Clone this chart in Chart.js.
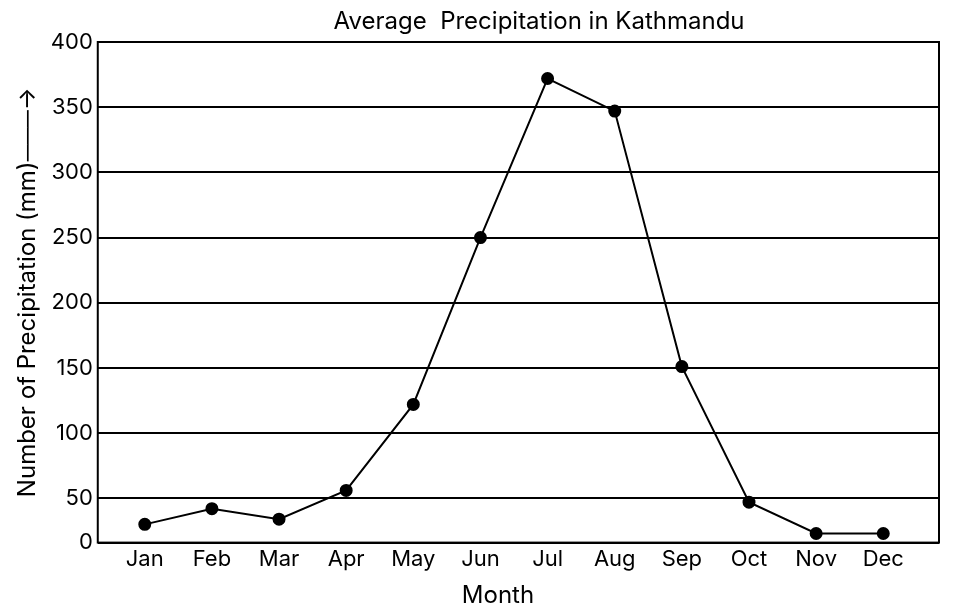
<!DOCTYPE html>
<html>
<head>
<meta charset="utf-8">
<script src="https://cdn.jsdelivr.net/npm/chart.js@4/dist/chart.umd.min.js"></script>
<style>
  html, body { margin: 0; padding: 0; background: #fff; }
  #wrap { width: 957px; height: 612px; }
</style>
</head>
<body>
<div id="wrap"><canvas id="chart"></canvas></div>
<script>
const months = ['Jan', 'Feb', 'Mar', 'Apr', 'May', 'Jun', 'Jul', 'Aug', 'Sep', 'Oct', 'Nov', 'Dec'];
const precipitation = [30, 42, 34, 56, 122, 250, 372, 347, 151, 47, 23, 23];
const yTicks = [50, 100, 150, 200, 250, 300, 350, 400];
const yMin = 16;

const FONT = 'Inter, "Noto Sans", sans-serif';
const TITLE = 'Average  Precipitation in Kathmandu';
const X_TITLE = 'Month';

// box round the plot area; titles drawn by hand since they sit off-centre in the original
const frame = {
    id: 'frame',
    afterDraw(chart) {
        const { ctx, chartArea: a } = chart;
        ctx.save();
        ctx.strokeStyle = '#000';
        ctx.lineWidth = 2;
        ctx.strokeRect(a.left, a.top, a.right - a.left, a.bottom - a.top);
        ctx.fillStyle = '#000';
        ctx.font = '24px ' + FONT;
        ctx.textAlign = 'center';
        ctx.textBaseline = 'middle';
        ctx.fillText(TITLE, 539, 22);
        ctx.fillText(X_TITLE, 498, 596);
        ctx.restore();
    }
};

new Chart(document.getElementById('chart'), {
    type: 'line',
    data: {
        datasets: [{
            data: precipitation.map((v, i) => ({ x: i, y: v })),
            borderColor: '#000',
            backgroundColor: '#000',
            borderWidth: 2,
            pointRadius: 5.5,
            pointHoverRadius: 5.5,
            tension: 0
        }]
    },
    options: {
        responsive: true,
        maintainAspectRatio: false,
        animation: false,
        layout: { padding: { left: 9, right: 18, top: 42, bottom: 35 } },
        plugins: {
            legend: { display: false },
            tooltip: { enabled: false },
            title: { display: false }
        },
        scales: {
            x: {
                type: 'linear',
                min: -0.7,
                max: 11.83,
                afterBuildTicks: axis => { axis.ticks = months.map((m, i) => ({ value: i })); },
                ticks: {
                    color: '#000',
                    font: { family: FONT, size: 22 },
                    padding: 4,
                    callback: v => months[v]
                },
                grid: { display: false, drawTicks: false },
                border: { display: false }
            },
            y: {
                min: yMin,
                max: 400,
                afterBuildTicks: axis => { axis.ticks = [yMin, ...yTicks].map(v => ({ value: v })); },
                ticks: {
                    color: '#000',
                    font: { family: FONT, size: 22 },
                    padding: 5,
                    callback: v => (v === yMin ? '0' : v)
                },
                grid: { color: '#000', lineWidth: 2, drawTicks: false },
                border: { display: false },
                title: {
                    display: true,
                    text: 'Number of Precipitation (mm)\u2500\u2500\u2500\u2192',
                    color: '#000',
                    font: { family: FONT, size: 24 },
                    padding: { top: 4, bottom: 4 }
                }
            }
        }
    },
    plugins: [frame]
});
</script>
</body>
</html>
